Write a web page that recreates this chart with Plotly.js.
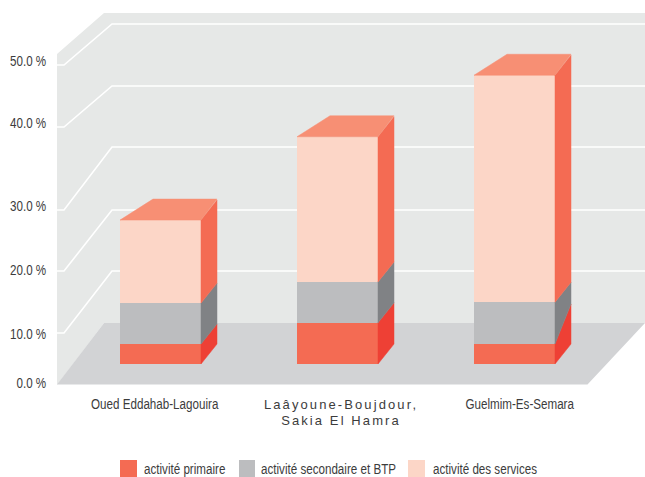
<!DOCTYPE html>
<html><head><meta charset="utf-8">
<script src="https://cdn.plot.ly/plotly-3.0.1.min.js"></script>
<style>html,body{margin:0;padding:0;background:#fff;overflow:hidden}#chart{width:645px;height:477px}</style>
</head><body><div id="chart"></div>
<script>
// ---- data (percent)
const regions = ['Oued Eddahab-Lagouira', 'Laâyoune-Boujdour,<br>Sakia El Hamra', 'Guelmim-Es-Semara'];
const seriesNames = ['activité primaire', 'activité secondaire et BTP', 'activité des services'];
const primaire = [3.25, 6.7, 3.25];
const secondaire = [6.65, 6.65, 6.8];
const services = [13.5, 23.6, 36.9];
// rear edge of the primary block, as the drawing shows it (third bar is skewed in the original)
const primaireRear = [3.25, 6.7, 6.5];
const yTickText = ['0.0 %', '10.0 %', '20.0 %', '30.0 %', '40.0 %', '50.0 %'];

// ---- colours
const front = ['#f46b53', '#bcbdbf', '#fcd6c7'];
const side = ['#ee4035', '#808285', '#f46b53'];
const topColor = '#f78f74';

// ---- scale of the drawing: axis units <-> pixels of the 645x477 scene
const pxPerCat = 177, cat0px = 160.5, pxPerUnit = 6.15, basePx = 364;
const plotLeft = 57, plotBottom = 394;
const X = p => (p - cat0px) / pxPerCat;
const Y = p => (basePx - p) / pxPerUnit;
const barW = 81 / pxPerCat;
const depthX = 16 / pxPerCat, depthY = 20 / pxPerUnit;
const topSkewX = 33 / pxPerCat, topSkewY = 21 / pxPerUnit;

const cats = regions.map((_, i) => i);
const stackData = [primaire, secondaire, services];
const traces = stackData.map((vals, s) => ({
  type: 'bar', x: cats, y: vals, width: barW, name: seriesNames[s], showlegend: false,
  marker: {color: front[s], line: {width: 0}}, hoverinfo: 'name+y'
}));

function poly(xs, ys, color) {
  return {type: 'scatter', mode: 'lines', x: xs, y: ys, fill: 'toself', fillcolor: color,
    line: {width: 0.5, color: color}, showlegend: false, hoverinfo: 'skip'};
}
cats.forEach(i => {
  const r = i + barW / 2, l = i - barW / 2;
  const c1 = primaire[i], c2 = c1 + secondaire[i], c3 = c2 + services[i];
  const rear1 = primaireRear[i];
  const xs = [r, r + depthX, r + depthX, r, r];
  traces.push(poly(xs, [0, depthY, rear1 + depthY, c1, 0], side[0]));
  traces.push(poly(xs, [c1, rear1 + depthY, c2 + depthY, c2, c1], side[1]));
  traces.push(poly(xs, [c2, c2 + depthY, c3 + depthY, c3, c2], side[2]));
  traces.push(poly([l, l + topSkewX, r + depthX, r, l], [c3, c3 + topSkewY, c3 + topSkewY, c3, c3], topColor));
});

// ---- scenery: wall, floor, grid (pixel positions of the backdrop)
const pathOf = pts => 'M' + pts.map(p => X(p[0]) + ',' + Y(p[1])).join('L');
const gridFront = [333, 271, 210, 127, 65];
const gridBack = [271, 210, 147, 86, 24];
const shapes = [
  {type: 'path', layer: 'below', path: pathOf([[57, 54], [104, 13], [645, 13], [645, 323], [104, 323], [57, 385]]) + 'Z', fillcolor: '#e6e8e7', line: {width: 0}},
  {type: 'path', layer: 'below', path: pathOf([[57, 384.5], [104, 323], [645, 323], [587.5, 384.5]]) + 'Z', fillcolor: '#d2d3d5', line: {width: 0}}
];
gridFront.forEach((f, i) => shapes.push({type: 'path', layer: 'below',
  path: pathOf([[57, f], [64, f], [112, gridBack[i]], [645, gridBack[i]]]),
  line: {color: '#ffffff', width: 1.6}}));

// ---- legend entries
const legendSwatch = [[120, 137], [239, 255], [408, 425]];
const legendText = [143, 260, 432];
const annotations = [];
const pyPaper = p => (plotBottom - p) / plotBottom;
const pxPaper = p => (p - plotLeft) / (645 - plotLeft);
const labelFont = {family: 'Liberation Sans', size: 14, color: '#3c3c3c'};
seriesNames.forEach((n, s) => {
  shapes.push({type: 'rect', xref: 'paper', yref: 'paper', x0: pxPaper(legendSwatch[s][0]), x1: pxPaper(legendSwatch[s][1]),
    y0: pyPaper(460), y1: pyPaper(480), fillcolor: front[s], line: {width: 0}});
  annotations.push({xref: 'paper', yref: 'paper', x: pxPaper(legendText[s]), y: pyPaper(468.5), xanchor: 'left', yanchor: 'middle',
    align: 'left', text: n, showarrow: false, borderpad: 0, font: labelFont});
});

const yTickPx = [383, 334, 270, 206, 123, 61];
const xLabelPx = [154.7, 341, 519.7];
const xTickText = [regions[0],
  regions[1].split('<br>').map(t => '<span style="letter-spacing:2.1px;font-size:13px">' + t + '</span>').join('<br>'),
  regions[2]];

Plotly.newPlot('chart', traces, {
  width: 645, height: 477, barmode: 'stack', showlegend: false,
  margin: {l: plotLeft, r: 0, t: 0, b: 477 - plotBottom, pad: 0},
  paper_bgcolor: '#fff', plot_bgcolor: '#fff',
  xaxis: {range: [X(plotLeft), X(645)], tickmode: 'array', tickvals: xLabelPx.map(X), ticktext: xTickText,
    showgrid: false, zeroline: false, showline: false, ticks: '', automargin: false,
    tickfont: labelFont},
  yaxis: {range: [Y(plotBottom), Y(0)], tickmode: 'array', tickvals: yTickPx.map(Y), ticktext: yTickText,
    showgrid: false, zeroline: false, showline: false, ticks: 'outside', ticklen: 7, tickcolor: 'rgba(0,0,0,0)', automargin: false,
    tickfont: labelFont},
  shapes, annotations
}, {displayModeBar: false, staticPlot: true}).then(() => {
  // the original uses a condensed face: condense single-line labels horizontally
  document.querySelectorAll('#chart .xtick text, #chart .ytick text, #chart .annotation-text').forEach(t => {
    if (t.querySelector('tspan')) {
      t.querySelectorAll('tspan.line').forEach((l, i) => { if (i) l.setAttribute('dy', '16px'); });
      return;
    }
    t.setAttribute('lengthAdjust', 'spacingAndGlyphs');
    t.setAttribute('textLength', t.getComputedTextLength() * 0.83);
  });
});
</script></body></html>
